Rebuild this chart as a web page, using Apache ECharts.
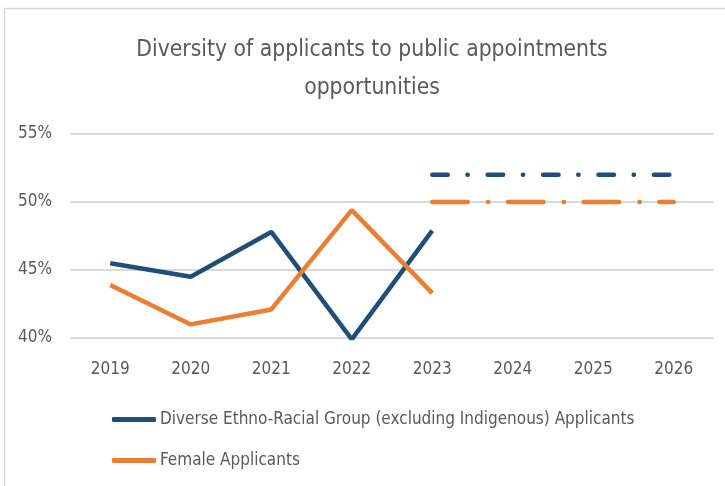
<!DOCTYPE html>
<html>
<head>
<meta charset="utf-8">
<script src="https://cdn.jsdelivr.net/npm/echarts@6/dist/echarts.min.js"></script>
<style>
  html, body { margin: 0; padding: 0; background: #fff; }
  #chart { width: 725px; height: 486px; }
</style>
</head>
<body>
<div id="chart"></div>
<script>
// years on the x axis
var years = ['2019', '2020', '2021', '2022', '2023', '2024', '2025', '2026']
// actual results (percent)
var diverseActual = [45.5, 44.5, 47.8, 39.9, 47.9, null, null, null]
var femaleActual = [43.9, 41.0, 42.1, 49.4, 43.3, null, null, null]
// targets, drawn dash-dot from 2023 on
var diverseTarget = [null, null, null, null, 52, 52, 52, 52]
var femaleTarget = [null, null, null, null, 50, 50, 50, 50]

var blue = '#1F4E79'
var orange = '#ED7D31'
var txt = '#595959'
var font = '"DejaVu Sans Condensed", sans-serif'

var chart = echarts.init(document.getElementById('chart'))
var option = {
    backgroundColor: '#fff',
    animation: false,
    title: {
        text: 'Diversity of applicants to public appointments\nopportunities',
        left: 367,
        top: 26,
        textAlign: 'center',
        textStyle: {
            color: txt,
            fontFamily: font,
            fontWeight: 'normal',
            fontSize: 22.7,
            lineHeight: 38
        }
    },
    graphic: [
        {   // chart frame
            type: 'rect',
            shape: { x: 4.5, y: 8.5, width: 760, height: 520 },
            style: { fill: 'none', stroke: '#D9D9D9', lineWidth: 1.5 },
            silent: true
        }
    ],
    legend: {
        orient: 'vertical',
        left: 107,
        top: 406,
        itemGap: 24,
        itemWidth: 44,
        itemHeight: 5,
        icon: 'roundRect',
        data: ['Diverse Ethno-Racial Group (excluding Indigenous) Applicants', 'Female Applicants'],
        textStyle: { color: txt, fontFamily: font, fontSize: 17, padding: [0, 0, 0, -1] }
    },
    grid: { left: 70, right: 11, top: 134, bottom: 148 },
    xAxis: {
        type: 'category',
        data: years,
        boundaryGap: true,
        axisLine: { show: false },
        axisTick: { show: false },
        axisLabel: { color: txt, fontFamily: font, fontSize: 17, margin: 23 }
    },
    yAxis: {
        type: 'value',
        min: 40,
        max: 55,
        interval: 5,
        axisLine: { show: false },
        axisTick: { show: false },
        axisLabel: {
            color: txt, fontFamily: font, fontSize: 17, margin: 18,
            formatter: function (v) { return v + '%' }
        },
        splitLine: { lineStyle: { color: '#D9D9D9', width: 2 } }
    },
    series: [
        {
            name: 'Diverse Ethno-Racial Group (excluding Indigenous) Applicants',
            type: 'line',
            data: diverseActual,
            symbol: 'none',
            itemStyle: { color: blue },
            lineStyle: { color: blue, width: 4.5 }
        },
        {
            name: 'Female Applicants',
            type: 'line',
            data: femaleActual,
            symbol: 'none',
            itemStyle: { color: orange },
            lineStyle: { color: orange, width: 4.5 }
        },
        {
            name: 'Diverse target',
            type: 'line',
            data: diverseTarget,
            symbol: 'none',
            lineStyle: { color: blue, width: 4.5, cap: 'round', type: [15.5, 19.7, 0.3, 19.9] }
        },
        {
            name: 'Female target',
            type: 'line',
            data: femaleTarget,
            symbol: 'none',
            lineStyle: { color: orange, width: 4.5, cap: 'round', type: [35.5, 20.3, 0.3, 19.6] }
        }
    ]
}
chart.setOption(option)
</script>
</body>
</html>
